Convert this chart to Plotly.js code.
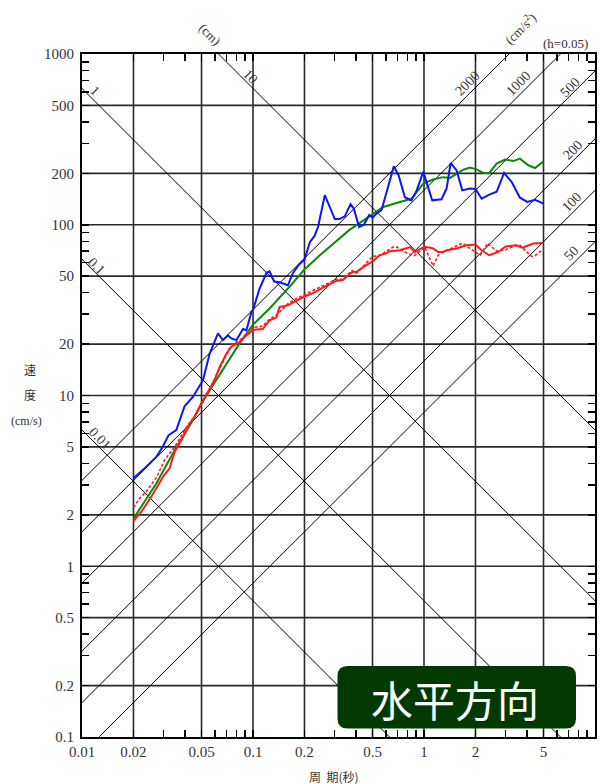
<!DOCTYPE html>
<html><head><meta charset="utf-8">
<script src="https://cdn.plot.ly/plotly-3.0.1.min.js"></script>
<style>html,body{margin:0;padding:0;background:#fff}#chart{width:602px;height:784px}</style>
</head><body><div id="chart"></div>
<script>
// ---- data (period in s, pseudo velocity in cm/s) ----
const periodBlue = [0.02,0.0232,0.0272,0.0293,0.0321,0.0356,0.0398,0.0445,0.051,0.0558,0.0624,0.0667,0.0713,0.0747,0.08,0.0874,0.0915,0.098,0.1,0.109,0.12,0.125,0.133,0.143,0.16,0.171,0.186,0.2,0.215,0.229,0.24,0.263,0.301,0.32,0.344,0.372,0.389,0.417,0.445,0.478,0.5,0.532,0.565,0.6,0.666,0.71,0.773,0.843,0.9,0.99,1.117,1.267,1.356,1.431,1.552,1.674,1.857,2.0,2.174,2.41,2.66,2.94,3.26,3.64,4.02,4.46,5.0];
const velBlue    = [3.28,3.74,4.37,4.9,5.86,6.27,8.65,9.8,12.3,17.6,23.1,21.1,22.5,21.6,21.1,24.5,24.1,31,31.6,42,52.3,53.3,46.5,46,44.2,52,58.5,62.5,79,86,97,149,108,108,112,132,124,97,100,114,110,117,122,152,220,195,145,139,156,204,139,141,163,230,208,159,163,162,142,150,156,201,178,144,136,140,133];

const periodGreen = [0.02,0.0272,0.0348,0.0445,0.05,0.061,0.073,0.0834,0.1,0.125,0.16,0.2,0.246,0.308,0.365,0.461,0.577,0.723,0.843,0.99,1.13,1.295,1.42,1.697,1.857,2.03,2.22,2.41,2.66,2.98,3.33,3.64,4.07,4.46,5.0];
const velGreen    = [1.9,3.05,4.78,7.17,9.0,12.3,16.1,20.2,26,32.3,42.3,54.7,66.3,81,93,109,127,136,142,174,184,190,188,210,216,211,201,201,228,241,236,244,223,215,235];

const periodRed = [0.02,0.0222,0.0254,0.0284,0.0301,0.0325,0.0348,0.0381,0.0426,0.0456,0.05,0.0596,0.0638,0.07,0.0748,0.0834,0.0915,0.1,0.114,0.125,0.137,0.143,0.16,0.18,0.2,0.224,0.246,0.275,0.308,0.334,0.38,0.403,0.46,0.5,0.55,0.6,0.63,0.723,0.83,0.88,0.96,1.01,1.08,1.13,1.21,1.295,1.36,1.55,1.77,2.0,2.17,2.41,2.72,3.0,3.45,3.75,4.37,5.0];
const velRed    = [1.84,2.08,2.55,3.12,3.4,3.74,4.67,5.47,6.85,7.5,9.0,12.3,14.7,17.6,19.3,20.5,22.5,24.2,24.5,27.6,28.6,33,33.7,36,38,39.8,42,44.5,47,47.3,52.9,53,58,61,66.3,68,70,71,74,69,72.6,74,73.5,72.6,69.3,69.5,70.9,72.6,75.8,76.5,70.9,66.3,69.3,74.6,75.8,73.5,77.6,78.3];

const periodRedDash = [0.02,0.0217,0.0237,0.0272,0.0304,0.0348,0.0407,0.0456,0.05,0.0596,0.0638,0.07,0.0748,0.0834,0.0915,0.1,0.114,0.125,0.137,0.16,0.18,0.2,0.224,0.246,0.275,0.308,0.334,0.38,0.403,0.46,0.5,0.55,0.6,0.66,0.695,0.81,0.88,1.01,1.13,1.21,1.267,1.45,1.68,1.96,2.13,2.36,2.66,3.0,3.45,3.64,4.26,4.46,5.0];
const velRedDash    = [2.21,2.49,2.73,3.3,4.18,5.0,6.5,7.6,8.8,12.5,14.5,17.2,19.8,21,22.8,25,25.5,28,29.5,34.5,37,39,41,43,45.5,48,48,54,52,60,65.2,66,70,74,74,67.4,66,74,57.4,66.3,68.5,72.6,78,70,66.3,78,70,71.5,75.8,75.8,65.2,66,72];

// tripartite guide levels
const dispLevels = [0.01, 0.1, 1, 10];          // cm
const dispLabels = ['0.01', '0.1', '1', '10'];
const accLevels  = [50, 100, 200, 500, 1000, 2000]; // cm/s^2
const accLabels  = ['50', '100', '200', '500', '1000', '2000'];

const xTickVals = [0.01,0.02,0.05,0.1,0.2,0.5,1,2,5,10];
const xTickText = ['0.01','0.02','0.05','0.1','0.2','0.5','1','2','5','10'];
const xMinor = [0.03,0.04,0.06,0.07,0.08,0.09,0.3,0.4,0.6,0.7,0.8,0.9,3,4,6,7,8,9];
const yTickVals = [0.1,0.2,0.5,1,2,5,10,20,50,100,200,500,1000];
const yTickText = ['0.1','0.2','0.5','1','2','5','10','20','50','100','200','500','1000'];
const yMinor = [0.3,0.4,0.6,0.7,0.8,0.9,3,4,6,7,8,9,30,40,60,70,80,90,300,400,600,700,800,900];

// ---- layout geometry (pixels) ----
const L = 82, TOP = 54, W = 513, H = 683;
const px = x => (x - L) / W;
const py = y => (TOP + H - y) / H;

const traces = [];
const TWO_PI = 2 * Math.PI;
const tEnds = [0.01, 10];
dispLevels.forEach(d => {
  traces.push({x: tEnds, y: tEnds.map(t => TWO_PI * d / t), mode: 'lines',
    line: {color: '#000', width: 1}, hoverinfo: 'skip', showlegend: false});
});
accLevels.forEach(a => {
  traces.push({x: tEnds, y: tEnds.map(t => a * t / TWO_PI), mode: 'lines',
    line: {color: '#000', width: 1}, hoverinfo: 'skip', showlegend: false});
});
traces.push({x: periodGreen, y: velGreen, mode: 'lines', line: {color: '#0a8a0a', width: 2}, showlegend: false});
traces.push({x: periodRedDash, y: velRedDash, mode: 'lines', line: {color: '#ff1a1a', width: 1.6, dash: '3px,2px'}, showlegend: false});
traces.push({x: periodRed, y: velRed, mode: 'lines', line: {color: '#ff1a1a', width: 2}, showlegend: false});
traces.push({x: periodBlue, y: velBlue, mode: 'lines', line: {color: '#0a14ff', width: 2}, showlegend: false});

const serif = 'Liberation Serif, DejaVu Serif, serif';
const cjk = 'Noto Sans CJK JP, Noto Sans CJK SC, sans-serif';
const ann = (text, x, y, angle, size, extra) => Object.assign({
  text, xref: 'paper', yref: 'paper', x: px(x), y: py(y), xanchor: 'center', yanchor: 'middle',
  showarrow: false, textangle: angle, font: {family: serif, size: size, color: '#333'}
}, extra || {});

const dispPos = [[100,438],[97,266],[95,90],[250,77]];
const accPos = [[571,253],[571,202],[572,150],[570,88],[518,83],[467,83]];
const annotations = [];
dispLevels.forEach((d, i) => annotations.push(ann(dispLabels[i], dispPos[i][0], dispPos[i][1], 45, 14)));
accLevels.forEach((a, i) => annotations.push(ann(accLabels[i], accPos[i][0], accPos[i][1], -45, 14)));
annotations.push(ann('(cm)', 210, 34, 45, 13));
annotations.push(ann('(cm/s<sup>2</sup>)', 520, 28, -45, 13));
annotations.push(ann('(h=0.05)', 565, 43, 0, 13));
annotations.push(ann('速', 30, 369, 0, 12, {font: {family: cjk, size: 12, color: '#333'}}));
annotations.push(ann('度', 30, 394, 0, 12, {font: {family: cjk, size: 12, color: '#333'}}));
annotations.push(ann('(cm/s)', 26, 421, 0, 12));
annotations.push(ann('周&nbsp;&nbsp;期(秒)', 334, 776, 0, 12, {font: {family: cjk, size: 12, color: '#333'}}));
annotations.push(ann('水平方向', 455, 698, 0, 42, {font: {family: cjk, size: 42, color: '#ffffff'}}));

// rounded box (paper coords)
const bx0 = px(337.5), bx1 = px(576), byT = py(666), byB = py(728.5);
const rx = 10 / W, ry = 10 / H;
const boxPath = `M ${bx0+rx},${byT} L ${bx1-rx},${byT} Q ${bx1},${byT} ${bx1},${byT-ry} L ${bx1},${byB+ry} Q ${bx1},${byB} ${bx1-rx},${byB} L ${bx0+rx},${byB} Q ${bx0},${byB} ${bx0},${byB+ry} L ${bx0},${byT-ry} Q ${bx0},${byT} ${bx0+rx},${byT} Z`;

// grid lines at labelled values (as shapes), ticks at all values
const gridColor = '#2a2a2a', gridWidth = 1.6;
const shapes = [];
xTickVals.slice(1, -1).forEach(v => shapes.push({type: 'line', xref: 'x', yref: 'paper', x0: v, x1: v, y0: 0, y1: 1,
  line: {color: gridColor, width: gridWidth}, layer: 'below'}));
yTickVals.slice(1, -1).forEach(v => shapes.push({type: 'line', xref: 'paper', yref: 'y', x0: 0, x1: 1, y0: v, y1: v,
  line: {color: gridColor, width: gridWidth}, layer: 'below'}));
shapes.push({type: 'path', xref: 'paper', yref: 'paper', path: boxPath, fillcolor: '#003a00', line: {width: 0}, layer: 'above'});

const allX = xTickVals.concat(xMinor), allXText = xTickText.concat(xMinor.map(() => ''));
const allY = yTickVals.concat(yMinor), allYText = yTickText.concat(yMinor.map(() => ''));

const axisCommon = {
  type: 'log', showgrid: false, zeroline: false,
  showline: true, linecolor: '#000', linewidth: 2, mirror: 'allticks',
  ticks: 'inside', ticklen: 7, tickwidth: 1.5, tickcolor: '#000', tickmode: 'array', fixedrange: true
};

const layout = {
  width: 602, height: 784,
  margin: {l: L, r: 602 - L - W, t: TOP, b: 784 - TOP - H},
  paper_bgcolor: '#fff', plot_bgcolor: '#fff',
  showlegend: false,
  xaxis: Object.assign({}, axisCommon, {
    range: [-2, 1], tickvals: allX, ticktext: allXText,
    tickfont: {family: serif, size: 15, color: '#333'}, ticklabelstandoff: 0
  }),
  yaxis: Object.assign({}, axisCommon, {
    range: [-1, 3], tickvals: allY, ticktext: allYText,
    tickfont: {family: serif, size: 15, color: '#333'}, ticklabelstandoff: 3
  }),
  shapes: shapes,
  annotations: annotations
};

Plotly.newPlot('chart', traces, layout, {displayModeBar: false, staticPlot: true});
</script>
</body></html>
